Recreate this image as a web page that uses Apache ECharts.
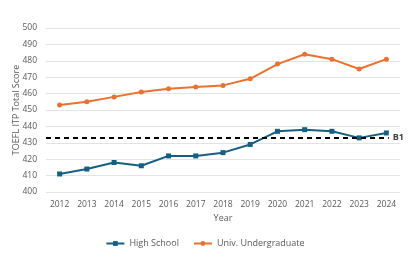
<!DOCTYPE html>
<html>
<head>
<meta charset="utf-8">
<script src="https://cdn.jsdelivr.net/npm/echarts@6/dist/echarts.min.js"></script>
<style>
  html, body { margin: 0; padding: 0; background: #ffffff; }
  #chart { width: 410px; height: 275px; }
</style>
</head>
<body>
<div id="chart"></div>
<script>
const years = ['2012', '2013', '2014', '2015', '2016', '2017', '2018', '2019', '2020', '2021', '2022', '2023', '2024']
const highSchool = [411, 414, 418, 416, 422, 422, 424, 429, 437, 438, 437, 433, 436]
const undergrad = [453, 455, 458, 461, 463, 464, 465, 469, 478, 484, 481, 475, 481]
const b1Level = 433

const font = 'Open Sans, Liberation Sans, sans-serif'
const grey = '#595959'

const chart = echarts.init(document.getElementById('chart'))

chart.setOption({
    animation: false,
    textStyle: { fontFamily: font },
    grid: {
        left: 46,
        right: 10,
        top: 28,
        bottom: 83
    },
    legend: {
        top: 234,
        left: 'center',
        itemWidth: 18,
        itemHeight: 6,
        itemGap: 14,
        textStyle: { color: grey, fontSize: 9, fontFamily: font },
        data: ['High School', 'Univ. Undergraduate']
    },
    xAxis: {
        type: 'category',
        data: years,
        name: 'Year',
        nameLocation: 'middle',
        nameGap: 20,
        nameTextStyle: { color: grey, fontSize: 9 },
        axisLine: { show: false },
        axisTick: { show: false },
        axisLabel: { color: grey, fontSize: 8.5, margin: 8, interval: 0 }
    },
    yAxis: {
        type: 'value',
        min: 400,
        max: 500,
        interval: 10,
        name: 'TOEFL ITP Total Score',
        nameLocation: 'middle',
        nameGap: 25,
        nameMoveOverlap: false,
        nameTextStyle: { color: grey, fontSize: 9 },
        axisLine: { show: false },
        axisTick: { show: false },
        axisLabel: { color: grey, fontSize: 8.5, margin: 9 },
        splitLine: { lineStyle: { color: '#e3e3e3', width: 1 } }
    },
    series: [
        {
            name: 'High School',
            type: 'line',
            data: highSchool,
            symbol: 'rect',
            symbolSize: 5,
            lineStyle: { width: 2, color: '#156082' },
            itemStyle: { color: '#156082' },
            z: 3
        },
        {
            name: 'Univ. Undergraduate',
            type: 'line',
            data: undergrad,
            symbol: 'circle',
            symbolSize: 5,
            lineStyle: { width: 2, color: '#E97132' },
            itemStyle: { color: '#E97132' },
            markLine: {
                silent: true,
                symbol: 'none',
                lineStyle: { type: [5, 4], color: '#000000', width: 2 },
                label: {
                    show: true,
                    position: 'insideEnd',
                    distance: -4,
                    formatter: 'B1',
                    color: '#404040',
                    fontSize: 9,
                    fontWeight: 'bold',
                    backgroundColor: '#ffffff',
                    padding: [0, 0, 0, 4]
                },
                data: [{ yAxis: b1Level }]
            }
        }
    ]
})
</script>
</body>
</html>
